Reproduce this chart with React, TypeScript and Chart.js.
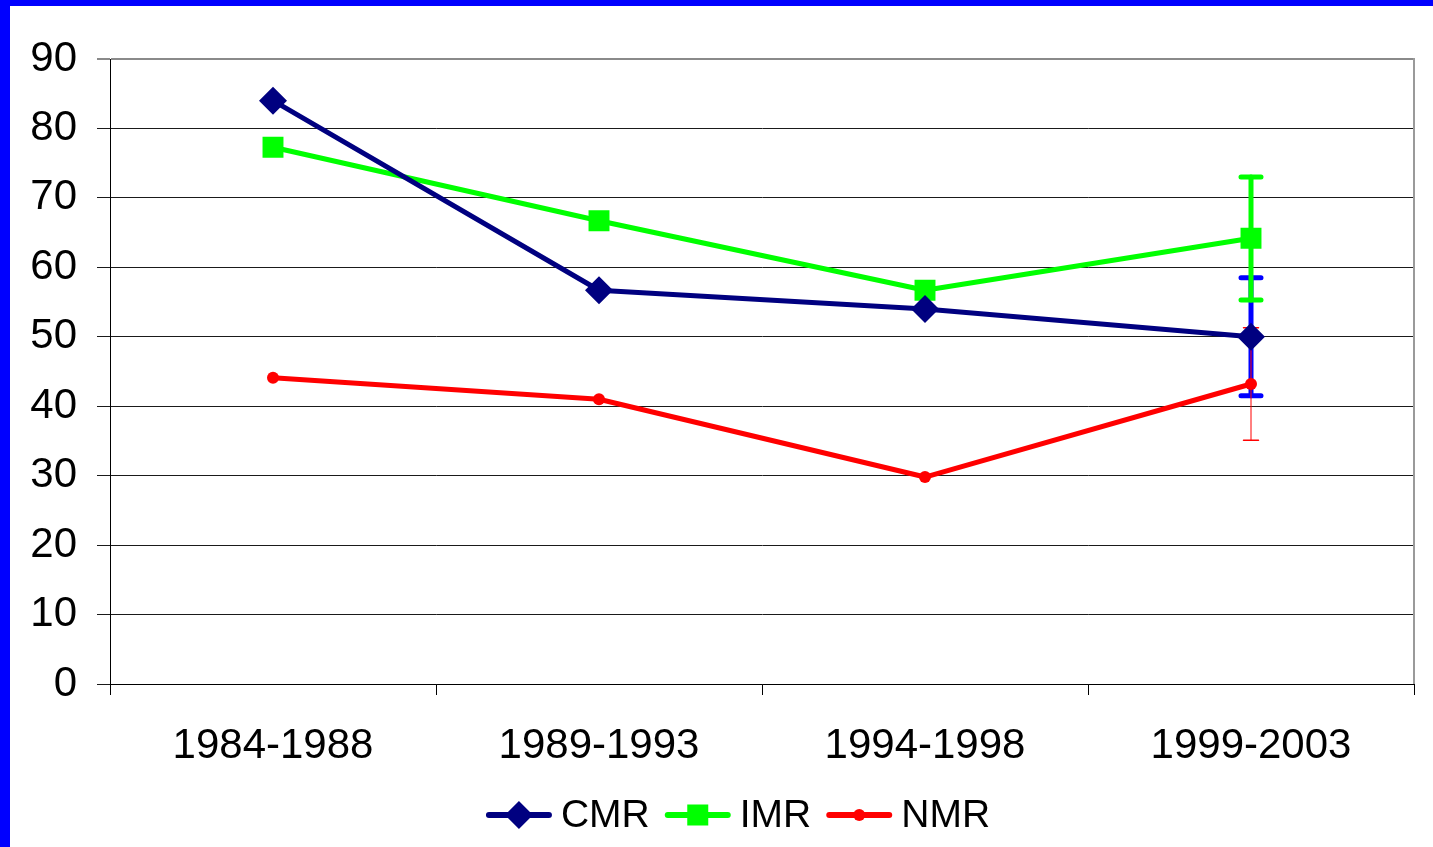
import React, { useEffect, useRef } from "react";
import { Chart, registerables } from "chart.js";

Chart.register(...registerables);

const categories = ["1984-1988", "1989-1993", "1994-1998", "1999-2003"];
const cmrValues = [84, 56.7, 54, 50];
const imrValues = [77.3, 66.7, 56.7, 64.2];
const nmrValues = [44.1, 41.0, 29.8, 43.2];

// error bars (only last period has them)
const cmrErrLow = [null, null, null, 41.5];
const cmrErrHigh = [null, null, null, 58.5];
const imrErrLow = [null, null, null, 55.3];
const imrErrHigh = [null, null, null, 73];
const nmrErrLow = [null, null, null, 35.1];
const nmrErrHigh = [null, null, null, 51.3];

const yTicks = [0, 10, 20, 30, 40, 50, 60, 70, 80, 90];
const legendLabels = ["CMR", "IMR", "NMR"];

const FONT = "'Liberation Sans', Arial, sans-serif";

export default function App() {
  const ref = useRef<HTMLCanvasElement | null>(null);

  useEffect(() => {
    document.body.style.margin = "0";
    const canvas = ref.current;
    if (!canvas) return;

    const errorBars = [
      { low: cmrErrLow, high: cmrErrHigh, color: "#0000ff", width: 5, cap: 10, capWidth: 5 },
      { low: imrErrLow, high: imrErrHigh, color: "#00ff00", width: 5, cap: 10, capWidth: 5 },
      { low: nmrErrLow, high: nmrErrHigh, color: "#ff0000", width: 1, cap: 7.5, capWidth: 1.5 },
    ];

    const errorPlugin = {
      id: "errorBars",
      beforeDatasetsDraw(chart: any) {
        const { ctx, scales } = chart;
        ctx.save();
        ctx.lineCap = "round";
        errorBars.forEach((eb) => {
          eb.low.forEach((lo: number | null, i: number) => {
            const hi = eb.high[i];
            if (lo == null || hi == null) return;
            const x = scales.x.getPixelForValue(i);
            const yl = scales.y.getPixelForValue(lo);
            const yh = scales.y.getPixelForValue(hi);
            ctx.strokeStyle = eb.color;
            ctx.lineWidth = eb.width;
            ctx.beginPath();
            ctx.moveTo(x, yh);
            ctx.lineTo(x, yl);
            ctx.stroke();
            ctx.lineWidth = eb.capWidth;
            ctx.beginPath();
            ctx.moveTo(x - eb.cap, yh);
            ctx.lineTo(x + eb.cap, yh);
            ctx.moveTo(x - eb.cap, yl);
            ctx.lineTo(x + eb.cap, yl);
            ctx.stroke();
          });
        });
        ctx.restore();
      },
    };

    const framePlugin = {
      id: "frame",
      beforeDatasetsDraw(chart: any) {
        const { ctx, chartArea } = chart;
        ctx.save();
        ctx.strokeStyle = "#9a9a9a";
        ctx.lineWidth = 2;
        ctx.beginPath();
        ctx.moveTo(chartArea.right, chartArea.top - 1);
        ctx.lineTo(chartArea.right, chartArea.bottom);
        ctx.stroke();
        ctx.restore();
      },
    };

    const legendStyles = [
      { color: "#000080", shape: "diamond" },
      { color: "#00ff00", shape: "square" },
      { color: "#ff0000", shape: "circle" },
    ];

    const legendPlugin = {
      id: "customLegend",
      afterDraw(chart: any) {
        const { ctx, chartArea } = chart;
        ctx.save();
        ctx.font = `39px ${FONT}`;
        const lineLen = 66;
        const gap = 9;
        const itemGap = 15;
        const widths = legendLabels.map((l) => ctx.measureText(l).width);
        const total =
          widths.reduce((a, b) => a + b, 0) + legendLabels.length * (lineLen + gap) + itemGap * (legendLabels.length - 1);
        const cx = (chartArea.left + chartArea.right) / 2 - 24;
        let x = cx - total / 2;
        const y = 809;
        legendLabels.forEach((label, i) => {
          const st = legendStyles[i];
          ctx.strokeStyle = st.color;
          ctx.fillStyle = st.color;
          ctx.lineWidth = 6;
          ctx.lineCap = "round";
          ctx.beginPath();
          ctx.moveTo(x + 3, y);
          ctx.lineTo(x + lineLen - 3, y);
          ctx.stroke();
          const mx = x + lineLen / 2;
          ctx.beginPath();
          if (st.shape === "diamond") {
            ctx.moveTo(mx, y - 14);
            ctx.lineTo(mx + 14, y);
            ctx.lineTo(mx, y + 14);
            ctx.lineTo(mx - 14, y);
            ctx.closePath();
          } else if (st.shape === "square") {
            ctx.rect(mx - 10.5, y - 10.5, 21, 21);
          } else {
            ctx.arc(mx, y, 6, 0, Math.PI * 2);
          }
          ctx.fill();
          x += lineLen + gap;
          ctx.fillStyle = "#000";
          ctx.textBaseline = "middle";
          ctx.textAlign = "left";
          ctx.fillText(label, x, y + 1);
          x += widths[i] + itemGap;
        });
        ctx.restore();
      },
    };

    const chart = new Chart(canvas, {
      type: "line",
      data: {
        labels: categories,
        datasets: [
          {
            label: legendLabels[0],
            data: cmrValues,
            borderColor: "#000080",
            backgroundColor: "#000080",
            borderWidth: 5,
            pointStyle: "rectRot",
            pointRadius: 14,
            pointBorderWidth: 0,
            borderCapStyle: "round",
            borderJoinStyle: "round",
          },
          {
            label: legendLabels[1],
            data: imrValues,
            borderColor: "#00ff00",
            backgroundColor: "#00ff00",
            borderWidth: 5,
            pointStyle: "rect",
            pointRadius: 14.8,
            pointBorderWidth: 0,
            borderCapStyle: "round",
            borderJoinStyle: "round",
          },
          {
            label: legendLabels[2],
            data: nmrValues,
            borderColor: "#ff0000",
            backgroundColor: "#ff0000",
            borderWidth: 5,
            pointStyle: "circle",
            pointRadius: 6,
            pointBorderWidth: 0,
            borderCapStyle: "round",
            borderJoinStyle: "round",
          },
        ],
      },
      options: {
        responsive: false,
        animation: false,
        devicePixelRatio: 1,
        layout: { padding: { left: 0, right: 19, top: 53, bottom: 83 } },
        plugins: {
          legend: { display: false },
          tooltip: { enabled: false },
        },
        scales: {
          x: {
            type: "category",
            offset: true,
            grid: {
              offset: true,
              drawOnChartArea: false,
              drawTicks: true,
              tickLength: 11,
              color: "#000",
              lineWidth: 1,
            },
            border: { display: true, color: "#000", width: 1 },
            ticks: {
              color: "#000",
              font: { family: FONT, size: 42 },
              padding: 26,
              maxRotation: 0,
              autoSkip: false,
            },
            afterFit(scale: any) {
              scale.height = 80;
            },
          },
          y: {
            min: 0,
            max: 90,
            afterBuildTicks(scale: any) {
              scale.ticks = yTicks.map((v) => ({ value: v }));
            },
            grid: {
              color: (c: any) => (c.tick && c.tick.value === 90 ? "#8a8a8a" : "#1a1a1a"),
              lineWidth: (c: any) => (c.tick && c.tick.value === 90 ? 2 : 1),
              tickLength: 13,
              drawTicks: true,
            },
            border: { display: true, color: "#000", width: 1 },
            ticks: {
              color: "#000",
              font: { family: FONT, size: 42 },
              padding: 20,
            },
            afterFit(scale: any) {
              scale.width = 100;
            },
          },
        },
      },
      plugins: [framePlugin, errorPlugin, legendPlugin],
    } as any);

    return () => chart.destroy();
  }, []);

  return (
    <div
      style={{
        position: "fixed",
        left: 0,
        top: 0,
        width: 1433,
        height: 847,
        boxSizing: "border-box",
        borderLeft: "10px solid #0000ff",
        borderTop: "6px solid #0000ff",
        background: "#fff",
        overflow: "hidden",
      }}
    >
      <canvas ref={ref} width={1423} height={841} style={{ display: "block", width: 1423, height: 841 }} />
    </div>
  );
}
